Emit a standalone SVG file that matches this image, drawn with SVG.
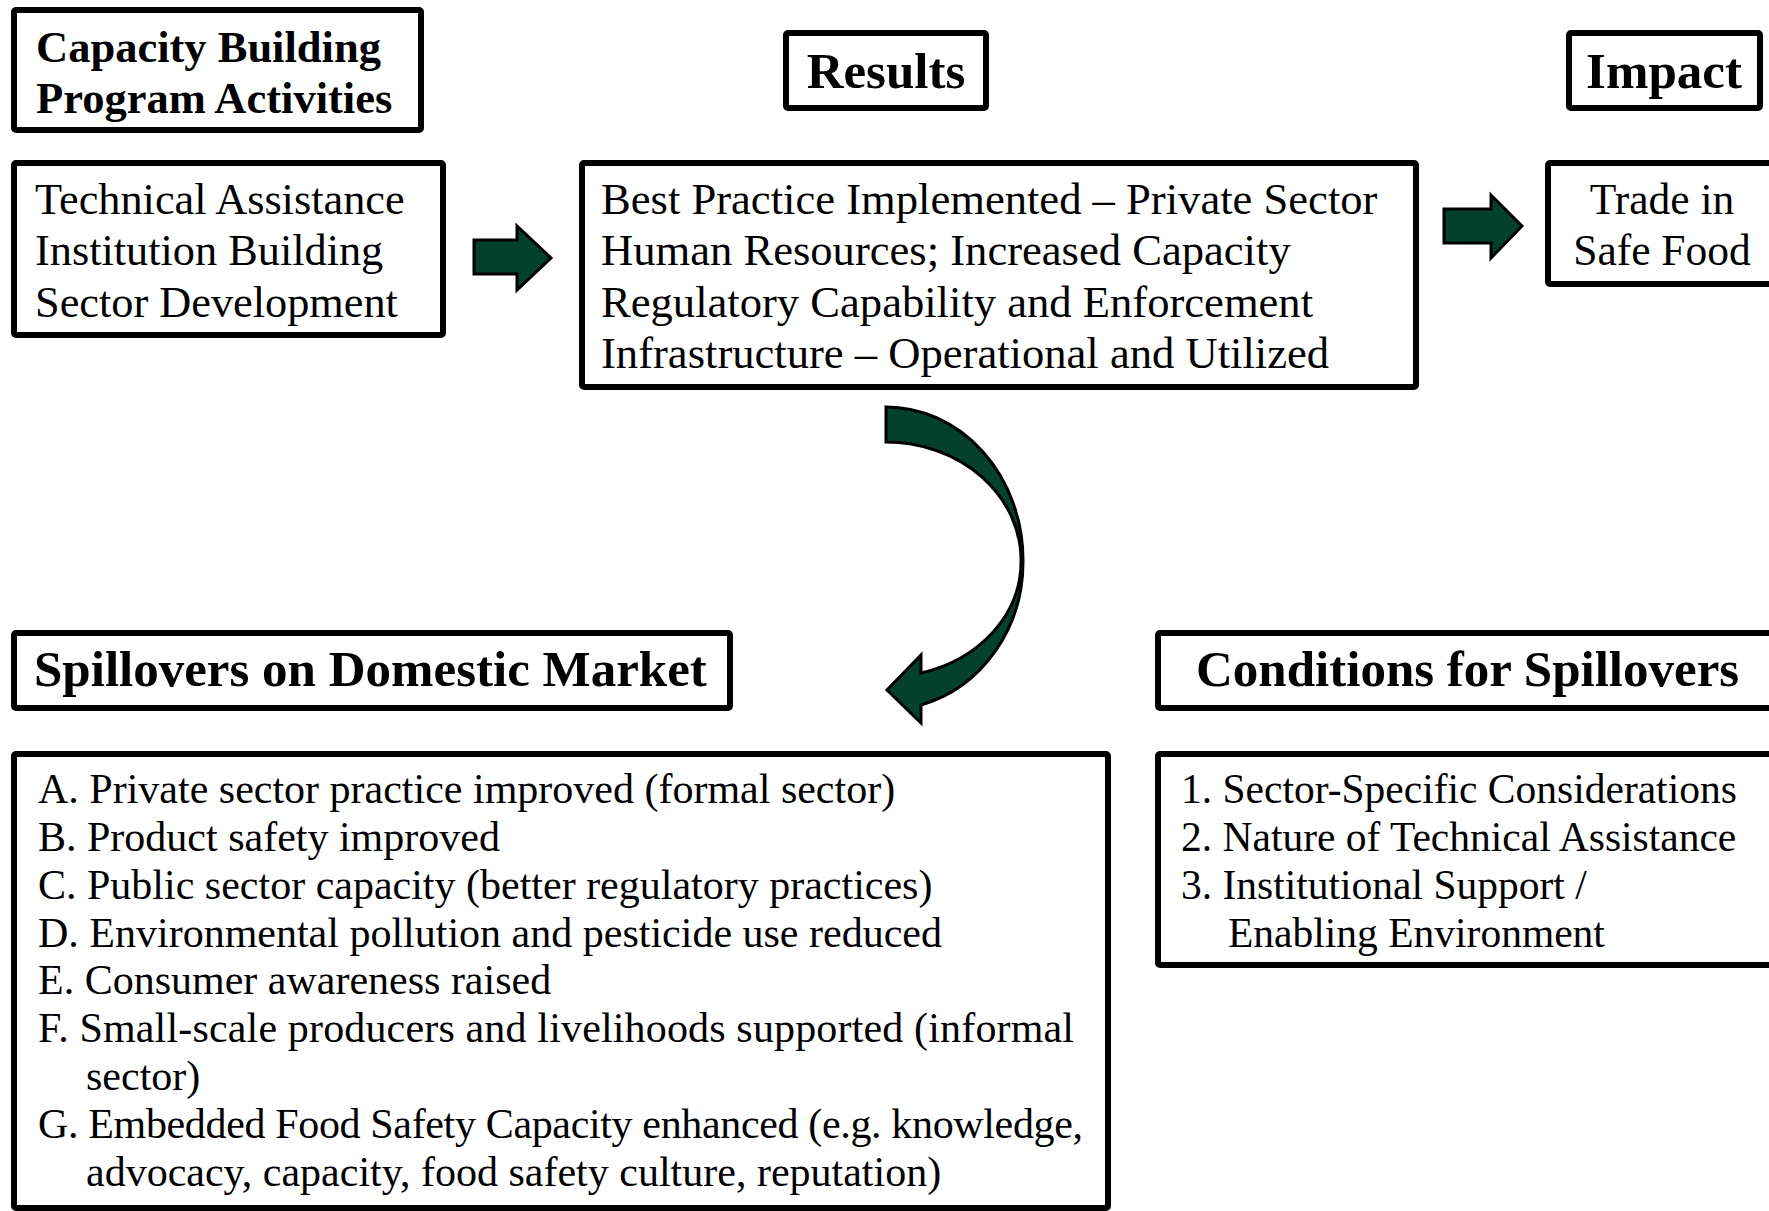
<svg xmlns="http://www.w3.org/2000/svg" width="1769" height="1211" viewBox="0 0 1769 1211">
<style>
.box{fill:#fff;stroke:#000;stroke-width:6;}
.hd{font-family:"Liberation Serif",serif;font-weight:bold;fill:#000;}
.tx{font-family:"Liberation Serif",serif;fill:#000;}
.li{font-family:"Liberation Serif",serif;fill:#000;font-size:42px;}
.arr{fill:#03412d;stroke:#000;stroke-width:3;stroke-linejoin:miter;}
</style>
<rect width="1769" height="1211" fill="#fff"/>
<g id="header-activities">
<rect class="box" x="14" y="10" width="407" height="120" rx="2"/>
<text class="hd" font-size="44.5" x="36" y="62">Capacity Building</text>
<text class="hd" font-size="44.5" x="36" y="113">Program Activities</text>
</g>
<g id="activities">
<rect class="box" x="14" y="163" width="429" height="172" rx="2"/>
<text class="tx" font-size="44.3" x="35" y="214">Technical Assistance</text>
<text class="tx" font-size="44.3" x="35" y="265">Institution Building</text>
<text class="tx" font-size="44.3" x="35" y="317">Sector Development</text>
</g>
<g id="header-results">
<rect class="box" x="786" y="33" width="200" height="75" rx="2"/>
<text class="hd" font-size="51" x="886" y="88" text-anchor="middle">Results</text>
</g>
<g id="results">
<rect class="box" x="582" y="163" width="834" height="224" rx="2"/>
<text class="tx" font-size="44.6" x="601" y="214">Best Practice Implemented – Private Sector</text>
<text class="tx" font-size="44.6" x="601" y="265">Human Resources; Increased Capacity</text>
<text class="tx" font-size="44.6" x="601" y="317">Regulatory Capability and Enforcement</text>
<text class="tx" font-size="44.6" x="601" y="368">Infrastructure – Operational and Utilized</text>
</g>
<g id="header-impact">
<rect class="box" x="1569" y="33" width="191" height="75" rx="2"/>
<text class="hd" font-size="51" x="1664" y="88" text-anchor="middle">Impact</text>
</g>
<g id="impact">
<rect class="box" x="1548" y="163" width="240" height="121" rx="2"/>
<text class="tx" font-size="43.5" x="1662" y="214" text-anchor="middle">Trade in</text>
<text class="tx" font-size="43.5" x="1662" y="265" text-anchor="middle">Safe Food</text>
</g>
<g id="header-spillovers">
<rect class="box" x="14" y="633" width="716" height="75" rx="2"/>
<text class="hd" font-size="51" x="34" y="686">Spillovers on Domestic Market</text>
</g>
<g id="spillovers">
<rect class="box" x="14" y="754" width="1094" height="454" rx="2"/>
<text class="li" x="38" y="803">A. Private sector practice improved (formal sector)</text>
<text class="li" x="38" y="851">B. Product safety improved</text>
<text class="li" x="38" y="899">C. Public sector capacity (better regulatory practices)</text>
<text class="li" x="38" y="947">D. Environmental pollution and pesticide use reduced</text>
<text class="li" x="38" y="994">E. Consumer awareness raised</text>
<text class="li" x="38" y="1042" textLength="1036" lengthAdjust="spacing">F. Small-scale producers and livelihoods supported (informal</text>
<text class="li" x="86" y="1090">sector)</text>
<text class="li" x="38" y="1138" textLength="1045" lengthAdjust="spacing">G. Embedded Food Safety Capacity enhanced (e.g. knowledge,</text>
<text class="li" x="86" y="1186">advocacy, capacity, food safety culture, reputation)</text>
</g>
<g id="header-conditions">
<rect class="box" x="1158" y="633" width="640" height="75" rx="2"/>
<text class="hd" font-size="51" x="1196" y="686">Conditions for Spillovers</text>
</g>
<g id="conditions">
<rect class="box" x="1158" y="754" width="640" height="211" rx="2"/>
<text class="li" x="1181" y="803" style="font-size:41.5px">1. Sector-Specific Considerations</text>
<text class="li" x="1181" y="851" style="font-size:41.5px">2. Nature of Technical Assistance</text>
<text class="li" x="1181" y="899" style="font-size:41.5px">3. Institutional Support /</text>
<text class="li" x="1228" y="947" style="font-size:41.5px">Enabling Environment</text>
</g>
<g id="connectors">
<polygon class="arr" points="474,240 517,240 517,226 551,258 517,290 517,274 474,274"/>
<polygon class="arr" points="1444,209 1491,209 1491,195 1522,226 1491,258 1491,243 1444,243"/>
<path class="arr" d="M 886 407 A 137 153 0 0 1 1023 560 A 137 148 0 0 1 921 705 L 921 723 L 887 690 L 921 655 L 921 673 A 135 115 0 0 0 1021 562 L 1021 560 A 135 118 0 0 0 886 442 Z"/>
</g>
</svg>
